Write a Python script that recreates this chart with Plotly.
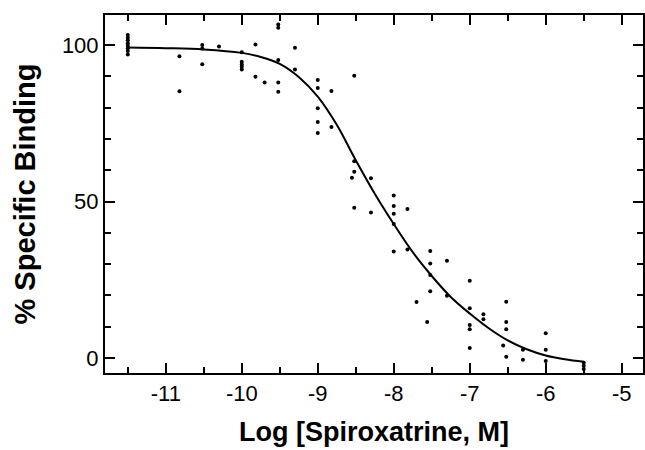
import plotly.graph_objects as go

# Observed data points: log concentration and % specific binding
log_conc = [
    -11.5, -11.5, -11.5, -11.5, -11.5, -11.5, -11.5, -11.5,
    -10.82, -10.82,
    -10.52, -10.52, -10.52,
    -10.3,
    -10.0, -10.0, -10.0, -10.0, -10.0,
    -9.82, -9.82,
    -9.7,
    -9.52, -9.52, -9.52, -9.52, -9.52,
    -9.3, -9.3,
    -9.0, -9.0, -9.0, -9.0, -9.0,
    -8.82, -8.82,
    -8.52, -8.52, -8.52, -8.55, -8.52,
    -8.3, -8.3,
    -8.0, -8.0, -8.0, -8.0, -8.0,
    -7.82, -7.82,
    -7.7,
    -7.56,
    -7.52, -7.52, -7.52, -7.52,
    -7.3, -7.3,
    -7.0, -7.0, -7.0, -7.0, -7.0,
    -6.82, -6.82,
    -6.56,
    -6.52, -6.52, -6.52, -6.52,
    -6.3, -6.3,
    -6.0, -6.0, -6.0,
    -5.5, -5.5, -5.5,
]
binding = [
    103.2, 102.3, 101.5, 100.6, 99.8, 98.9, 98.1, 97.0,
    96.4, 85.2,
    100.0, 98.9, 93.9,
    99.5,
    97.7, 94.7, 93.8, 93.1, 92.2,
    100.2, 89.9,
    88.0,
    106.6, 105.5, 95.2, 88.0, 85.1,
    99.1, 92.2,
    88.8, 86.3, 79.8, 75.4, 71.9,
    85.3, 73.8,
    90.2, 62.9, 59.5, 57.6, 48.0,
    57.4, 46.5,
    51.9, 48.6, 46.1, 42.8, 34.0,
    47.6, 34.7,
    17.9,
    11.5,
    34.2, 30.2, 26.5, 21.3,
    31.1, 19.9,
    24.7, 15.9, 10.5, 9.2, 3.2,
    14.0, 12.4,
    4.0,
    18.0, 11.5, 9.2, 0.4,
    2.6, -0.6,
    7.9, 2.6, -1.0,
    -1.5, -2.5, -3.5,
]

# Fitted curve
curve_x = [-11.5, -11.0, -10.5, -10.0, -9.75, -9.5, -9.25, -9.0, -8.75, -8.5,
           -8.25, -8.0, -7.75, -7.5, -7.25, -7.0, -6.75, -6.5, -6.25, -6.0,
           -5.75, -5.5]
curve_y = [99.2, 99.0, 98.6, 97.5, 96.2, 94.0, 89.8, 83.5, 74.5, 63.2,
           52.5, 42.8, 33.8, 26.2, 19.5, 14.2, 9.5, 5.6, 2.8, 0.8,
           -0.4, -1.2]

x_ticks = [-11, -10, -9, -8, -7, -6, -5]
y_ticks = [0, 50, 100]

FONT = "Liberation Sans, Arial, Helvetica, sans-serif"

fig = go.Figure()
fig.add_trace(go.Scatter(
    x=curve_x, y=curve_y, mode="lines",
    line=dict(color="black", width=2, shape="spline", smoothing=1.0),
    hoverinfo="skip", showlegend=False,
))
fig.add_trace(go.Scatter(
    x=log_conc, y=binding, mode="markers",
    marker=dict(color="black", size=4, symbol="circle"),
    showlegend=False,
))

axis_common = dict(
    showgrid=False, zeroline=False,
    showline=True, linecolor="black", linewidth=2, mirror="ticks",
    ticks="inside", ticklen=10, tickwidth=2, tickcolor="black",
    tickfont=dict(family=FONT, size=22, color="black"),
)

fig.update_xaxes(
    range=[-11.8, -4.72],
    tickmode="array", tickvals=x_ticks, ticktext=[str(v) for v in x_ticks],
    minor=dict(dtick=0.5, tick0=-11, ticks="inside", ticklen=6, tickwidth=2,
               tickcolor="black", showgrid=False),
    title=dict(text="Log [Spiroxatrine, M]", standoff=17,
               font=dict(family=FONT, size=27, color="black", weight="bold")),
    **axis_common,
)
fig.update_yaxes(
    range=[-4.8, 109.6],
    tickmode="array", tickvals=y_ticks, ticktext=[str(v) for v in y_ticks],
    minor=dict(dtick=10, tick0=0, ticks="inside", ticklen=6, tickwidth=2,
               tickcolor="black", showgrid=False),
    title=dict(text="% Specific Binding", standoff=18,
               font=dict(family=FONT, size=29, color="black", weight="bold")),
    **axis_common,
)

fig.update_layout(
    width=645, height=450,
    margin=dict(l=105, r=2, t=15, b=77, autoexpand=False),
    paper_bgcolor="white", plot_bgcolor="white",
    font=dict(family=FONT, color="black"),
)

fig.write_html(
    "out.html",
    config={"displayModeBar": False},
    post_script="document.body.style.margin='0';document.body.style.overflow='hidden';",
)
